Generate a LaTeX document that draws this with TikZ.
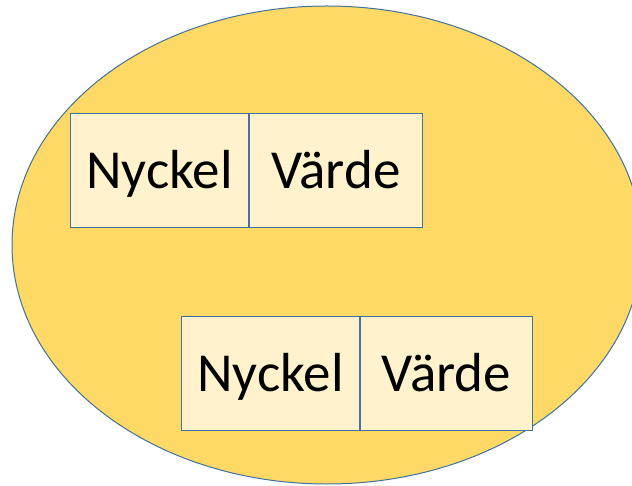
\documentclass[tikz,border=0pt]{standalone}
\usepackage{fontspec}
\setmainfont{Carlito}
\definecolor{bagfill}{HTML}{FFD966}
\definecolor{cellfill}{HTML}{FFF2CC}
\definecolor{edge}{HTML}{41719C}
\begin{document}
\begin{tikzpicture}[x=1pt,y=-1pt,
  bag/.style={draw=edge, fill=bagfill, line width=1pt},
  cell/.style={draw=edge, fill=cellfill, line width=1pt, minimum height=114pt,
    inner sep=0pt, text height=36pt, text depth=0pt,
    font=\fontsize{55}{60}\selectfont}]
\useasboundingbox (0,0) rectangle (632,486);
\clip (0,0) rectangle (632,486);
% the container
\draw[bag] (327,245) ellipse [x radius=315, y radius=239];
% first key/value pair
\node[cell, minimum width=178pt, anchor=north west] (k1) at (70,113) {Nyckel};
\node[cell, minimum width=173pt, anchor=north west] (v1) at (k1.north east) {Värde};
% second key/value pair
\node[cell, minimum width=178pt, anchor=north west] (k2) at (181,316) {Nyckel};
\node[cell, minimum width=172pt, anchor=north west] (v2) at (k2.north east) {Värde};
\end{tikzpicture}
\end{document}
